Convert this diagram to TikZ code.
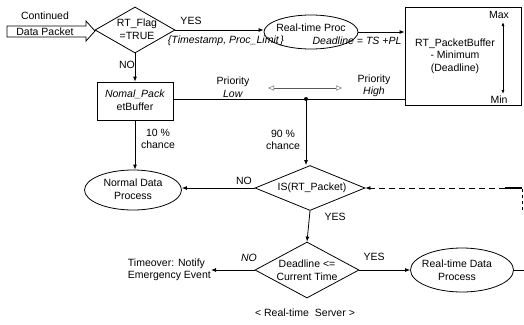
\documentclass[tikz,border=0pt]{standalone}
\usepackage{fontspec}
\setmainfont{Liberation Sans}
\usetikzlibrary{shapes.geometric,arrows.meta}
\begin{document}
\begin{tikzpicture}[x=1pt,y=-1pt,
  font=\fontsize{10.5}{12.5}\selectfont,
  txt/.style={inner sep=0pt,align=center},
  itx/.style={inner sep=0pt,align=center,font=\fontsize{10.5}{12.5}\selectfont\itshape},
  dia/.style={draw,thick,diamond,aspect=1.7,inner sep=0pt},
  ell/.style={draw,thick,ellipse,inner sep=0pt},
  box/.style={draw,thick,rectangle,inner sep=0pt},
  arr/.style={thick,-{Latex[length=5pt,width=4pt]}},
  ln/.style={thick}]
\useasboundingbox (0,0) rectangle (524,324);
% input block arrow
\draw[thick] (7,26) -- (86,26) -- (86,21) -- (95,31) -- (86,41) -- (86,37) -- (7,37) -- cycle;
\node[txt] (cont) at (45,16) {Continued};
\node[txt] (dpk) at (45,32) {Data Packet};
% RT_Flag diamond
\node[dia,minimum width=80pt,minimum height=46pt] (flag) at (135,30) {};
\node[txt] (flagt) at (137,29) {RT\_Flag\\=TRUE};
\node[txt] (yes1) at (191,21) {YES};
% Real-time Proc ellipse
\node[ell,minimum width=94pt,minimum height=34pt] (rtp) at (311,32) {};
\node[txt] (rtpt) at (311,28) {Real-time Proc};
\draw[arr] (flag.east) -- (rtp.west |- flag.east);
\node[itx] (ts) at (226,41) {\{Timestamp, Proc\_Limit\,\}};
\node[itx] (dl) at (357,41) {Deadline = TS +PL};
% RT packet buffer
\node[box,minimum width=116pt,minimum height=98pt] (rtb) at (463,56) {};
\node[txt] (rtbt) at (455,56) {RT\_PacketBuffer\\- Minimum\\(Deadline)};
\draw[arr] (rtp.east) -- (rtb.west |- rtp.east);
\node[txt] (max) at (499,15) {Max};
\node[txt] (min) at (499,100) {Min};
\coordinate (mx) at (503,22);
\coordinate (mn) at (503,94);
\draw[thick,{Latex[length=4pt,width=3pt]}-{Latex[length=4pt,width=3pt]}] (mx) -- (mn);
% Normal packet buffer
\node[txt] (no1) at (127,65) {NO};
\node[box,minimum width=76pt,minimum height=38pt] (nb) at (135,101) {};
\node[txt] (nbt) at (135,100) {\textit{Nomal\_Pack}\\etBuffer};
\draw[arr] (flag.south) -- (nb.north);
% priority line
\coordinate (dot) at (306,99);
\draw[ln] (nb.east |- dot) -- (rtb.west |- dot);
\fill (dot) circle (2pt);
\node[txt] (pl) at (233,87) {Priority\\\textit{Low}};
\node[txt] (ph) at (374,86) {Priority\\\textit{High}};
\coordinate (pa) at (268,88);
\coordinate (pb) at (342,88);
\draw[gray!70!black,{Triangle[open,length=6pt,width=5pt]}-{Triangle[open,length=6pt,width=5pt]}] (pa) -- (pb);
% Normal Data Process
\node[ell,minimum width=97pt,minimum height=40pt] (ndp) at (133,190) {};
\node[txt] (ndpt) at (133,189) {Normal Data\\Process};
\draw[arr] (nb.south) -- (ndp.north -| nb.south);
\node[txt] (c10) at (158,139) {10 \%\\chance};
% IS diamond
\node[dia,minimum width=110pt,minimum height=45pt] (is) at (310,188) {};
\node[txt] (ist) at (312,188) {IS(RT\_Packet)};
\draw[arr] (dot) -- (dot |- is.north);
\node[txt] (c90) at (283,140) {90 \%\\chance};
\draw[arr] (is.west) -- (ndp.east |- is.west);
\node[txt] (no2) at (244,181) {NO};
% dashed feedback
\coordinate (fb1) at (522,210);
\coordinate (fb2) at (522,188);
\coordinate (fb3) at (505,188);
\draw[thick,dashed] (fb1) -- (fb2);
\draw[line width=1.4pt] (fb2) -- (fb3);
\draw[thick,dash pattern=on 6pt off 4pt,-{Latex[length=5pt,width=4pt]}] (fb3) -- (is.east);
% Deadline diamond
\node[dia,minimum width=104pt,minimum height=56pt] (dd) at (307,270) {};
\node[txt] (ddt) at (307,270) {Deadline <=\\Current Time};
\draw[arr] (is.south) -- (dd.north);
\node[txt] (yes2) at (335,217) {YES};
% timeover
\node[txt,anchor=east,align=left] (to) at (211,270) {Timeover: Notify\\Emergency Event};
\draw[arr] (dd.west) -- (to.east);
\node[itx] (no3) at (249,258) {NO};
% Real-time Data Process
\node[ell,minimum width=103pt,minimum height=44pt] (rdp) at (462,270) {};
\node[txt] (rdpt) at (457,270) {Real-time Data\\Process};
\draw[arr] (dd.east) -- (rdp.west);
\node[txt] (yes3) at (374,257) {YES};
\coordinate (out) at (524,270);
\draw[ln] (rdp.east) -- (out);
% caption
\node[txt] (cap) at (305,313) {< Real-time\ \ Server >};
\end{tikzpicture}
\end{document}
